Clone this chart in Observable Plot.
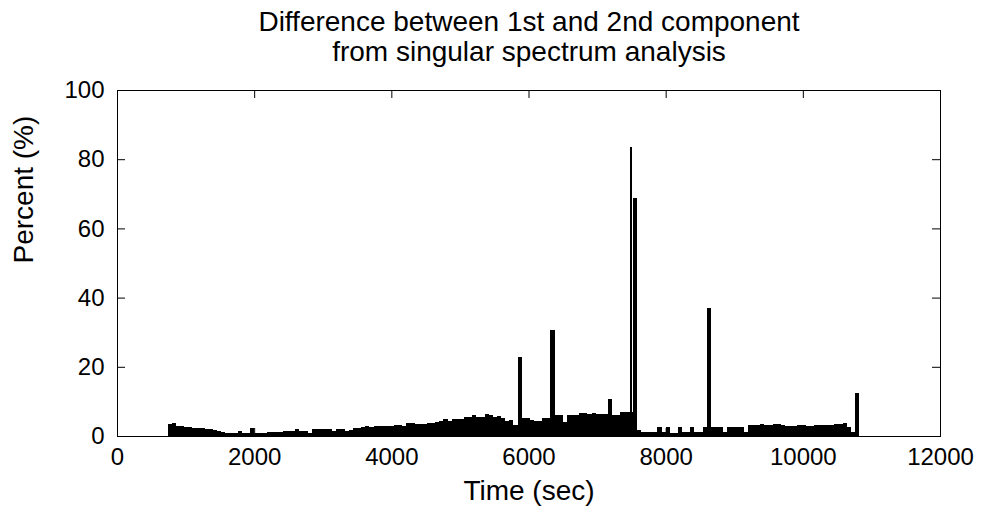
<!DOCTYPE html>
<html><head><meta charset="utf-8">
<script src="https://cdn.jsdelivr.net/npm/d3@7"></script>
<script src="https://cdn.jsdelivr.net/npm/@observablehq/plot@0.6"></script>
<style>html,body{margin:0;padding:0;background:#fff} svg{display:block}</style>
</head><body><div id="chart"></div>
<script>
const titleLines = ["Difference between 1st and 2nd component", "from singular spectrum analysis"];
const xLabel = "Time (sec)";
const yLabel = "Percent (%)";
const xTicks = [0, 2000, 4000, 6000, 8000, 10000, 12000];
const yTicks = [0, 20, 40, 60, 80, 100];

// bins of 60 s starting at 740 s
const binWidth = 60;
const binStart = d3.range(740, 10820, binWidth);
const pct = [
  3.4,3.8,3.0,3.0,2.5,2.5,2.2,2.2,2.2,2.0,
  1.9,1.7,1.5,1.2,0.9,0.9,0.9,1.4,0.9,0.9,
  2.2,1.0,1.0,1.0,1.1,1.1,1.3,1.3,1.5,1.4,
  1.4,1.9,1.5,1.5,1.0,2.1,2.1,1.9,1.9,1.9,
  1.5,2.1,2.1,1.5,1.6,2.3,2.3,2.6,2.8,2.6,
  2.8,2.9,2.9,2.9,2.9,3.1,3.3,2.9,3.7,3.8,
  3.5,3.5,3.6,3.85,3.85,4.0,4.3,4.9,4.3,4.9,
  4.8,5.0,5.4,5.5,6.1,5.4,5.6,6.3,6.2,5.4,
  5.8,5.2,4.4,4.6,3.2,22.8,5.1,5.1,4.6,4.4,
  4.4,5.1,5.1,30.6,6.1,6.1,4.1,6.1,6.1,6.1,
  6.7,6.7,6.4,6.7,6.5,6.4,6.4,10.6,6.1,6.1,
  6.8,6.8,6.8,68.9,1.7,1.1,1.1,1.1,1.1,2.7,
  1.1,2.7,1.0,1.0,2.7,1.1,1.2,2.7,1.1,1.1,
  2.7,36.9,2.7,2.7,2.7,1.1,2.7,2.7,2.7,2.7,
  1.2,3.3,3.3,3.3,3.4,3.2,3.2,3.5,3.5,3.2,
  2.8,2.8,2.8,3.3,3.3,3.0,2.9,3.3,3.3,3.3,
  3.3,3.3,3.5,3.5,3.85,2.7,1.2,12.3
];
// thin peak
const peakStart = [7482];
const peakEnd = [7506];
const peakValue = [83.4];

const W = 985, H = 512, mL = 117, mR = 45, mT = 90, mB = 76;
const fw = W - mL - mR, fh = H - mT - mB;
const font = "'Liberation Sans', Arial, Helvetica, sans-serif";

const chart = Plot.plot({
  width: W, height: H,
  marginLeft: mL, marginRight: mR, marginTop: mT, marginBottom: mB,
  style: {fontFamily: font, fontSize: "24px", background: "#fff", color: "#000"},
  x: {domain: [0, 12000]},
  y: {domain: [0, 100]},
  marks: [
    Plot.rectY(pct, {x1: (d, i) => binStart[i], x2: (d, i) => binStart[i] + binWidth, y: d => d, fill: "#000", shapeRendering: "crispEdges"}),
    Plot.rectY(peakValue, {x1: (d, i) => peakStart[i], x2: (d, i) => peakEnd[i], y: d => d, fill: "#000", shapeRendering: "crispEdges"}),
    Plot.frame({stroke: "#000", strokeWidth: 1}),
    Plot.ruleX(xTicks, {x: d => d, insetTop: fh - 8, stroke: "#000"}),
    Plot.ruleX(xTicks, {x: d => d, insetBottom: fh - 8, stroke: "#000"}),
    Plot.ruleY(yTicks, {y: d => d, insetRight: fw - 8, stroke: "#000"}),
    Plot.ruleY(yTicks, {y: d => d, insetLeft: fw - 8, stroke: "#000"}),
    Plot.axisX(xTicks, {tickSize: 0, tickPadding: 11, fontSize: 24, label: null, fill: "#000", tickFormat: d => String(d)}),
    Plot.axisY(yTicks, {tickSize: 0, tickPadding: 13, fontSize: 24, label: null, fill: "#000", tickFormat: d => String(d)}),
    Plot.text([xLabel], {text: d => d, frameAnchor: "bottom", dy: 63, fontSize: 28, fill: "#000"}),
    Plot.text([yLabel], {text: d => d, frameAnchor: "left", dx: -93, rotate: -90, fontSize: 28, fill: "#000"}),
    Plot.text([titleLines.join("\n")], {text: d => d, frameAnchor: "top", dy: -80, fontSize: 28, lineHeight: 1.05, fill: "#000"})
  ]
});
document.getElementById("chart").appendChild(chart);
</script>
</body></html>
